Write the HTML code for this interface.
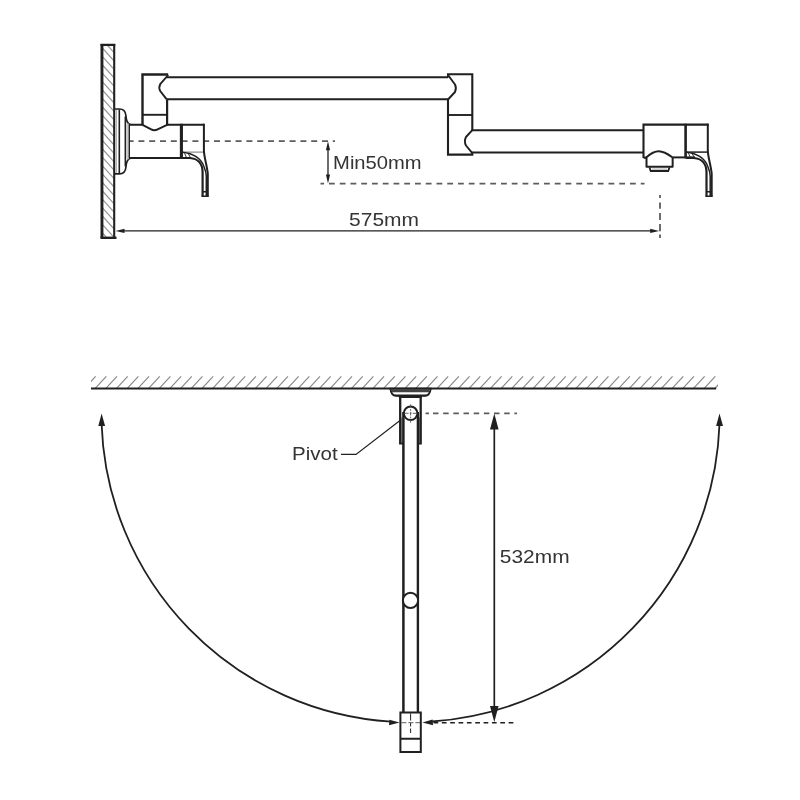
<!DOCTYPE html>
<html><head><meta charset="utf-8"><title>Pot filler dimensions</title>
<style>
html,body{margin:0;padding:0;background:#fff;}
body{width:800px;height:800px;overflow:hidden;}
svg{display:block;filter:grayscale(1);}
text{font-family:"Liberation Sans",sans-serif;}
</style></head><body>
<svg width="800" height="800" viewBox="0 0 800 800">
<rect width="800" height="800" fill="#fff"/>
<path d="M129.3,141.1H335" stroke="#5c5c5c" stroke-width="1.8" stroke-dasharray="6 4.8" stroke-dashoffset="1.7" fill="none"/>
<path d="M320.5,183.7H644.5" stroke="#5c5c5c" stroke-width="1.8" stroke-dasharray="5.8 4.95" stroke-dashoffset="2.25" fill="none"/>
<path d="M660,195V238" stroke="#5c5c5c" stroke-width="1.8" stroke-dasharray="3 4.4 6.4 4.3 6.8 4 7.4 3.2 4 20" fill="none"/>
<clipPath id="cw"><rect x="102" y="45" width="12.5" height="192.5"/></clipPath>
<path d="M101,13.00L115,28.40M101,21.40L115,36.80M101,29.80L115,45.20M101,38.20L115,53.60M101,46.60L115,62.00M101,55.00L115,70.40M101,63.40L115,78.80M101,71.80L115,87.20M101,80.20L115,95.60M101,88.60L115,104.00M101,97.00L115,112.40M101,105.40L115,120.80M101,113.80L115,129.20M101,122.20L115,137.60M101,130.60L115,146.00M101,139.00L115,154.40M101,147.40L115,162.80M101,155.80L115,171.20M101,164.20L115,179.60M101,172.60L115,188.00M101,181.00L115,196.40M101,189.40L115,204.80M101,197.80L115,213.20M101,206.20L115,221.60M101,214.60L115,230.00M101,223.00L115,238.40M101,231.40L115,246.80" stroke="#969696" stroke-width="1.2" fill="none" clip-path="url(#cw)"/>
<path d="M101.95,238V44H101.95" stroke="#231f20" stroke-width="2.9" fill="none"/>
<path d="M100.5,44.9H115.3" stroke="#231f20" stroke-width="2.3" fill="none"/>
<path d="M114.2,44V238" stroke="#231f20" stroke-width="2.1" fill="none"/>
<path d="M100.5,237.8H116.5" stroke="#231f20" stroke-width="2.4" fill="none"/>
<path d="M115,109H119.3C123.2,109 125.6,111.4 125.9,115.6C126.2,120.2 127.2,124 130.6,124.6 M115,173.8H119.3C123.2,173.8 125.6,171.4 125.9,167.2C126.2,162.6 127.2,158.7 130.6,158.1" stroke="#231f20" stroke-width="1.7" fill="none"/>
<path d="M116.4,110V173" stroke="#231f20" stroke-width="0.8" fill="none" opacity="0.45"/>
<path d="M119.3,109.5V173.3" stroke="#231f20" stroke-width="1.6" fill="none"/>
<path d="M125.3,116.5V166.3" stroke="#231f20" stroke-width="1.5" fill="none"/>
<path d="M127.4,123.5V159.3" stroke="#c8c8c8" stroke-width="2.6" fill="none"/>
<path d="M129.3,124.6V158.1" stroke="#231f20" stroke-width="1.4" fill="none"/>
<path d="M130,124.7H142.5 M167.1,124.7H204.4 M130,158H191" stroke="#231f20" stroke-width="2" fill="none"/>
<path d="M181.4,123.8V159" stroke="#231f20" stroke-width="3.1" fill="none"/>
<path d="M203.9,123.8V150C203.9,157 207.2,166 207.8,174V196.2" stroke="#231f20" stroke-width="2" fill="none"/><path d="M182,152.1H203.5" stroke="#231f20" stroke-width="0.9" fill="none" opacity="0.7"/><path d="M182.4,152.3C193,153.5 200.8,158.5 203.7,166C205.2,169.5 206.2,172 206.3,176V196" stroke="#231f20" stroke-width="1.5" fill="none"/><path d="M182,158H190C197,158.5 202.4,163 202.6,172V196.2" stroke="#231f20" stroke-width="2.2" fill="none"/><path d="M201.5,196.2H208.8 M202.6,191.7H207.6" stroke="#231f20" stroke-width="1.6" fill="none"/><path d="M184.5,153.2L186.5,157.5 M188.5,154L190.5,157.8" stroke="#231f20" stroke-width="0.9" fill="none"/>
<path d="M142.5,125.6V74.5H168.2" stroke="#231f20" stroke-width="2.4" fill="none" stroke-linejoin="miter"/>
<path d="M167.1,99.4V125.6" stroke="#231f20" stroke-width="2.2" fill="none"/>
<path d="M142.5,114.8H167.1" stroke="#231f20" stroke-width="1.9" fill="none"/>
<path d="M142.5,124.9L151.2,129.4Q154.4,131.2 157.6,129.4L167.1,124.9" stroke="#231f20" stroke-width="1.9" fill="none"/>
<path d="M168.2,75L160.2,84.2Q158.4,87.6 160.2,91L166.5,99.2" stroke="#231f20" stroke-width="1.9" fill="none" stroke-linejoin="round"/>
<path d="M166.5,77.3H448 M166.5,99.2H448" stroke="#231f20" stroke-width="2" fill="none"/>
<path d="M448,75L455,84.5Q456.8,88.2 455,92L448,99.5" stroke="#231f20" stroke-width="1.9" fill="none" stroke-linejoin="round"/>
<path d="M448,77.5V74.3H472.3V130.2 M448,98.8V154.6H472.3V152" stroke="#231f20" stroke-width="2.1" fill="none" stroke-linejoin="miter"/>
<path d="M448,115H472.3" stroke="#231f20" stroke-width="1.9" fill="none"/>
<path d="M472.3,130.2L466,137Q463.8,141.3 466,145.5L472.3,153.2" stroke="#231f20" stroke-width="1.9" fill="none" stroke-linejoin="round"/>
<path d="M471.5,130.2H643.5 M471.5,152.6H643.5" stroke="#231f20" stroke-width="2" fill="none"/>
<path d="M643.5,158V124.6H708.6" stroke="#231f20" stroke-width="2.1" fill="none" stroke-linejoin="miter"/>
<path d="M685.6,123.8V158.3" stroke="#231f20" stroke-width="2.6" fill="none"/>
<path d="M672.7,157.4H695" stroke="#231f20" stroke-width="2" fill="none"/>
<path d="M643.6,157.9L646.5,157.3C651,153.2 654.5,151.3 658.8,151.3C663.3,151.3 667.5,153.8 672.65,157.5 M646.5,157V166.7H672.65V157.5" stroke="#231f20" stroke-width="2" fill="none" stroke-linejoin="round"/>
<path d="M649.5,167.4L650.7,171H668.2L669.5,167.4" stroke="#231f20" stroke-width="1.8" fill="none" stroke-linejoin="miter"/>
<path d="M652,169.1H667" stroke="#9a9a9a" stroke-width="0.9" fill="none"/>
<path d="M707.8,123.8V150C707.8,157 711.1,166 711.7,174V196.2" stroke="#231f20" stroke-width="2" fill="none"/><path d="M685.9,152.1H707.4" stroke="#231f20" stroke-width="1.5" fill="none" opacity="1"/><path d="M686.3,152.3C696.9,153.5 704.7,158.5 707.6,166C709.1,169.5 710.1,172 710.2,176V196" stroke="#231f20" stroke-width="1.5" fill="none"/><path d="M685.9,158H693.9C700.9,158.5 706.3,163 706.5,172V196.2" stroke="#231f20" stroke-width="2.2" fill="none"/><path d="M705.4,196.2H712.7 M706.5,191.7H711.5" stroke="#231f20" stroke-width="1.6" fill="none"/><path d="M688.4,153.2L690.4,157.5 M692.4,154L694.4,157.8" stroke="#231f20" stroke-width="0.9" fill="none"/>
<path d="M328,146V179" stroke="#231f20" stroke-width="1.3" fill="none"/>
<path d="M328,141.3L330.1,150.3H325.9Z M328,183.4L330.1,174.4H325.9Z" fill="#231f20"/>
<path d="M120,230.9H654" stroke="#231f20" stroke-width="1.3" fill="none"/>
<path d="M115.5,230.9L124.5,228.7V233.1Z M659.2,230.9L650.2,228.7V233.1Z" fill="#231f20"/>
<clipPath id="ch"><rect x="91" y="370" width="627" height="19"/></clipPath>
<path d="M84.32,388.6L95.62,376.4M95.00,388.6L106.30,376.4M105.68,388.6L116.98,376.4M116.37,388.6L127.67,376.4M127.05,388.6L138.35,376.4M137.74,388.6L149.04,376.4M148.42,388.6L159.72,376.4M159.10,388.6L170.40,376.4M169.79,388.6L181.09,376.4M180.47,388.6L191.77,376.4M191.16,388.6L202.46,376.4M201.84,388.6L213.14,376.4M212.52,388.6L223.82,376.4M223.21,388.6L234.51,376.4M233.89,388.6L245.19,376.4M244.58,388.6L255.88,376.4M255.26,388.6L266.56,376.4M265.94,388.6L277.24,376.4M276.63,388.6L287.93,376.4M287.31,388.6L298.61,376.4M298.00,388.6L309.30,376.4M308.68,388.6L319.98,376.4M319.36,388.6L330.66,376.4M330.05,388.6L341.35,376.4M340.73,388.6L352.03,376.4M351.42,388.6L362.72,376.4M362.10,388.6L373.40,376.4M372.78,388.6L384.08,376.4M383.47,388.6L394.77,376.4M394.15,388.6L405.45,376.4M404.84,388.6L416.14,376.4M415.52,388.6L426.82,376.4M426.20,388.6L437.50,376.4M436.89,388.6L448.19,376.4M447.57,388.6L458.87,376.4M458.26,388.6L469.56,376.4M468.94,388.6L480.24,376.4M479.62,388.6L490.92,376.4M490.31,388.6L501.61,376.4M500.99,388.6L512.29,376.4M511.68,388.6L522.98,376.4M522.36,388.6L533.66,376.4M533.04,388.6L544.34,376.4M543.73,388.6L555.03,376.4M554.41,388.6L565.71,376.4M565.10,388.6L576.40,376.4M575.78,388.6L587.08,376.4M586.46,388.6L597.76,376.4M597.15,388.6L608.45,376.4M607.83,388.6L619.13,376.4M618.52,388.6L629.82,376.4M629.20,388.6L640.50,376.4M639.88,388.6L651.18,376.4M650.57,388.6L661.87,376.4M661.25,388.6L672.55,376.4M671.94,388.6L683.24,376.4M682.62,388.6L693.92,376.4M693.30,388.6L704.60,376.4M703.99,388.6L715.29,376.4M714.67,388.6L725.97,376.4" stroke="#8a8a8a" stroke-width="1.2" fill="none" clip-path="url(#ch)"/>
<path d="M91,388.6H716.2" stroke="#231f20" stroke-width="2" fill="none"/>
<path d="M390.4,388.6C390.9,393.2 392.6,395.6 396.2,395.9H424.9C428.5,395.6 430.2,393.2 430.7,388.6Z" fill="#fff" stroke="#231f20" stroke-width="1.9"/>
<path d="M391.3,389H429.8C429.6,390.4 429.3,391.4 428.8,392.3H392.3C391.8,391.4 391.5,390.4 391.3,389Z" fill="#454142"/>
<path d="M394.5,395.4H426.6 M398.9,397H421.9" stroke="#231f20" stroke-width="1.9" fill="none"/>
<path d="M400.2,396V443.4H403.2 M420.7,396V443.4H418" stroke="#231f20" stroke-width="2.3" fill="none"/>
<path d="M401.8,417.5V443 M419.5,417.5V443" stroke="#5a5657" stroke-width="1.2" fill="none"/>
<path d="M403.4,412V712.5" stroke="#231f20" stroke-width="2.5" fill="none"/>
<path d="M417.9,412V712.5" stroke="#231f20" stroke-width="2.4" fill="none"/>
<circle cx="410.6" cy="413.3" r="6.8" fill="#fff" stroke="#231f20" stroke-width="2"/>
<path d="M405,413.3H416.2 M410.6,404.3V422.7" stroke="#555" stroke-width="0.9" stroke-dasharray="3.6 1.2 1.6 1.2" fill="none"/>
<circle cx="410.5" cy="600.3" r="7.6" fill="#fff" stroke="#231f20" stroke-width="2"/>
<path d="M400.4,712.5H420.8V752H400.4Z M400.4,738.7H420.8" stroke="#231f20" stroke-width="2" fill="none" stroke-linejoin="miter"/>
<path d="M410.6,713.5V733" stroke="#231f20" stroke-width="1" stroke-dasharray="7 2 4 2" fill="none"/>
<path d="M401.4,722.7H420" stroke="#5c5c5c" stroke-width="1" stroke-dasharray="5 2" fill="none"/>
<path d="M425.5,413.4H429 M433,413.4H517" stroke="#5c5c5c" stroke-width="1.8" stroke-dasharray="5.5 4.67" fill="none"/>
<path d="M433.5,722.7H515.4" stroke="#231f20" stroke-width="1.4" stroke-dasharray="4.7 3.65" fill="none"/>
<path d="M494.3,425V710" stroke="#231f20" stroke-width="1.7" fill="none"/>
<path d="M494.3,413.4L498.6,429.6H490Z M494.3,722.2L498.6,706H490Z" fill="#231f20"/>
<path d="M101.6,424A309,309 0 0 0 391,721.6" stroke="#231f20" stroke-width="1.8" fill="none"/>
<path d="M719.5,424A309,309 0 0 1 432,721.5" stroke="#231f20" stroke-width="1.8" fill="none"/>
<path d="M101.6,413.4L105.1,426H98.3Z M719.5,413.4L723,426H716.1Z" fill="#231f20"/>
<path d="M399.6,722.6L389.4,719.7L389,725.3Z M422.4,722.6L432.6,719.6L433,725.2Z" fill="#231f20"/>
<path d="M341,454.4H356L400,420.6" stroke="#231f20" stroke-width="1.2" fill="none"/>
<g opacity="0.999">
<text transform="translate(333.1,169.0) scale(1.0896,1)" font-size="18.5" fill="#363334">Min50mm</text>
<text transform="translate(349.06,226.2) scale(1.1335,1)" font-size="18.5" fill="#363334">575mm</text>
<text transform="translate(292.12,459.6) scale(1.107,1)" font-size="18.5" fill="#363334">Pivot</text>
<text transform="translate(499.86,563.2) scale(1.1301,1)" font-size="18.5" fill="#363334">532mm</text>
</g>
</svg>
</body></html>
